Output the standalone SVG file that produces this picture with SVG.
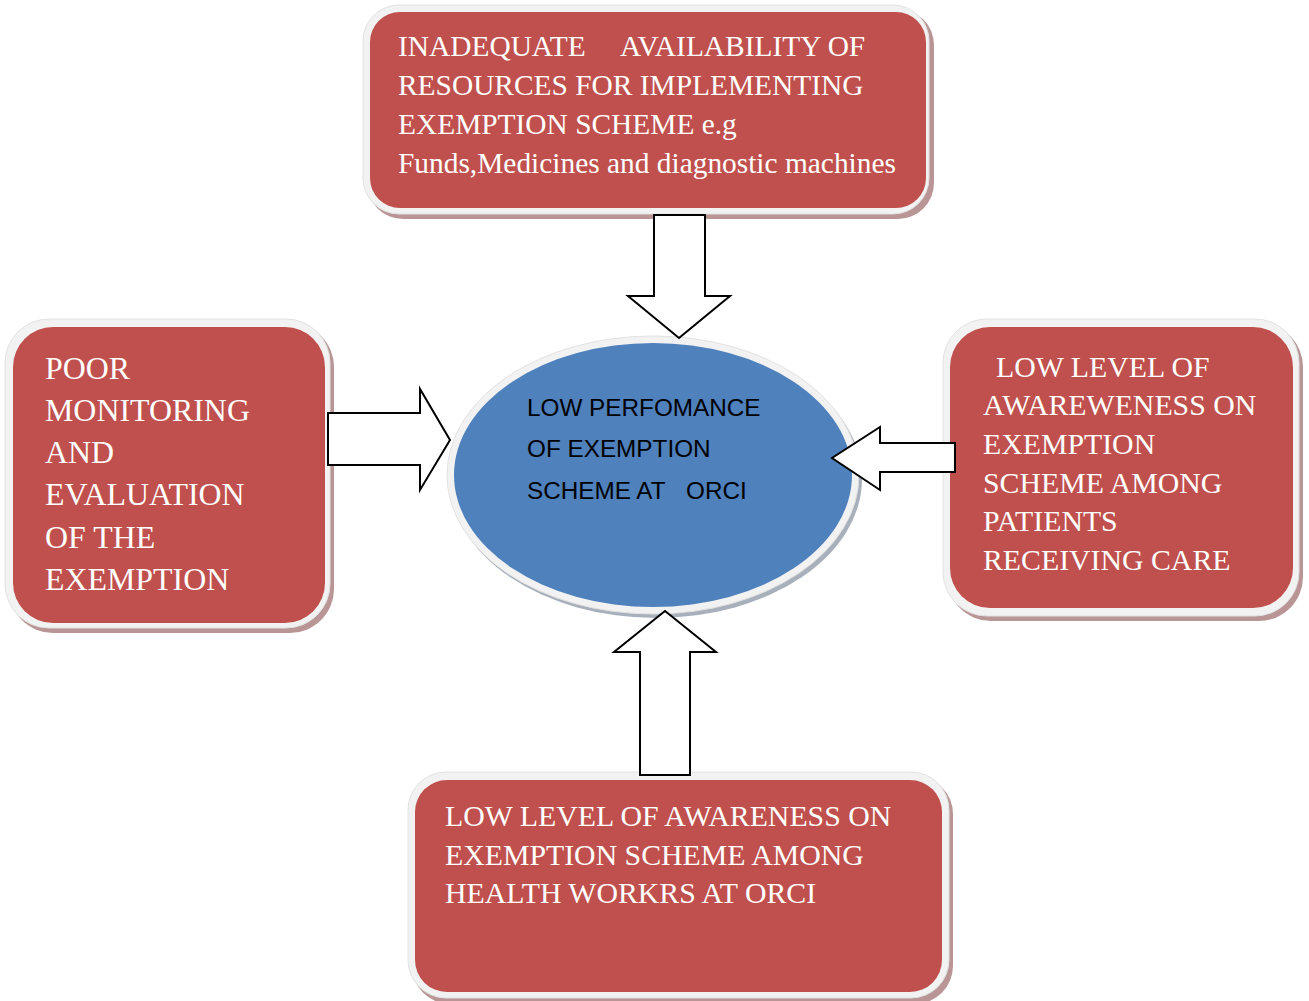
<svg xmlns="http://www.w3.org/2000/svg" width="1309" height="1001" viewBox="0 0 1309 1001">
<style>
.sh{fill:#b99595}
.fr{fill:#f2f2f2;stroke:#e2e2e2;stroke-width:1}
.rd{fill:#c0504d}
.t{font-family:"Liberation Serif","Times New Roman",serif;fill:#ffffff;font-size:29.8px}
.tt{font-family:"Liberation Serif","Times New Roman",serif;fill:#ffffff;font-size:29.4px}
.tl{font-family:"Liberation Serif","Times New Roman",serif;fill:#ffffff;font-size:31.9px}
.e{font-family:"Liberation Sans",Arial,sans-serif;fill:#000000;font-size:24.3px}
.ar{fill:#ffffff;stroke:#000000;stroke-width:2;stroke-linejoin:miter}
</style>
<rect width="1309" height="1001" fill="#ffffff"/>
<g id="top-box">
<rect class="sh" x="367" y="9" width="567" height="210" rx="36"/>
<rect class="fr" x="363" y="5" width="566" height="209" rx="36"/>
<rect class="rd" x="370" y="12" width="556" height="196" rx="30"/>
<text class="tt" x="398" y="56">INADEQUATE<tspan x="620">AVAILABILITY OF</tspan></text>
<text class="tt" x="398" y="95">RESOURCES FOR IMPLEMENTING</text>
<text class="tt" x="398" y="134">EXEMPTION SCHEME e.g</text>
<text class="tt" x="398" y="173">Funds,Medicines and diagnostic machines</text>
</g>
<g id="left-box">
<rect class="sh" x="9" y="323" width="325" height="310" rx="44"/>
<rect class="fr" x="5" y="319" width="325" height="309" rx="44"/>
<rect class="rd" x="13" y="327" width="312" height="296" rx="40"/>
<text class="tl" x="45" y="379">POOR</text>
<text class="tl" x="45" y="421">MONITORING</text>
<text class="tl" x="45" y="463">AND</text>
<text class="tl" x="45" y="505">EVALUATION</text>
<text class="tl" x="45" y="548">OF THE</text>
<text class="tl" x="45" y="590">EXEMPTION</text>
</g>
<g id="right-box">
<rect class="sh" x="947" y="323" width="356" height="298" rx="44"/>
<rect class="fr" x="943" y="319" width="356" height="297" rx="44"/>
<rect class="rd" x="950" y="327" width="343" height="281" rx="40"/>
<text class="t" x="996" y="377">LOW LEVEL OF</text>
<text class="t" x="983" y="415">AWAREWENESS ON</text>
<text class="t" x="983" y="454">EXEMPTION</text>
<text class="t" x="983" y="493">SCHEME AMONG</text>
<text class="t" x="983" y="531">PATIENTS</text>
<text class="t" x="983" y="570">RECEIVING CARE</text>
</g>
<g id="bottom-box">
<rect class="sh" x="412" y="776" width="541" height="228" rx="38"/>
<rect class="fr" x="408" y="772" width="541" height="226" rx="38"/>
<rect class="rd" x="415" y="780" width="527" height="212" rx="32"/>
<text class="t" x="445" y="826">LOW LEVEL OF AWARENESS ON</text>
<text class="t" x="445" y="865">EXEMPTION SCHEME AMONG</text>
<text class="t" x="445" y="903">HEALTH WORKRS AT ORCI</text>
</g>
<g id="center">
<ellipse cx="656" cy="479" rx="206" ry="139" fill="#a8b0bc"/>
<ellipse cx="653" cy="475" rx="206" ry="139" fill="#f2f2f2" stroke="#e2e2e2" stroke-width="1"/>
<ellipse cx="653" cy="475" rx="199" ry="132" fill="#4f81bd"/>
<text class="e" x="527" y="416">LOW PERFOMANCE</text>
<text class="e" x="527" y="457">OF EXEMPTION</text>
<text class="e" x="527" y="499">SCHEME AT<tspan x="686">ORCI</tspan></text>
</g>
<g id="connectors">
<polygon class="ar" points="654,215 705,215 705,296 730,296 679,338 628,296 654,296"/>
<polygon class="ar" points="328,413 420,413 420,389 450,440 420,490 420,465 328,465"/>
<polygon class="ar" points="955,443 880,443 880,427 832,458 880,490 880,472 955,472"/>
<polygon class="ar" points="640,775 640,652 614,652 665,611 716,652 690,652 690,775"/>
</g>
</svg>
